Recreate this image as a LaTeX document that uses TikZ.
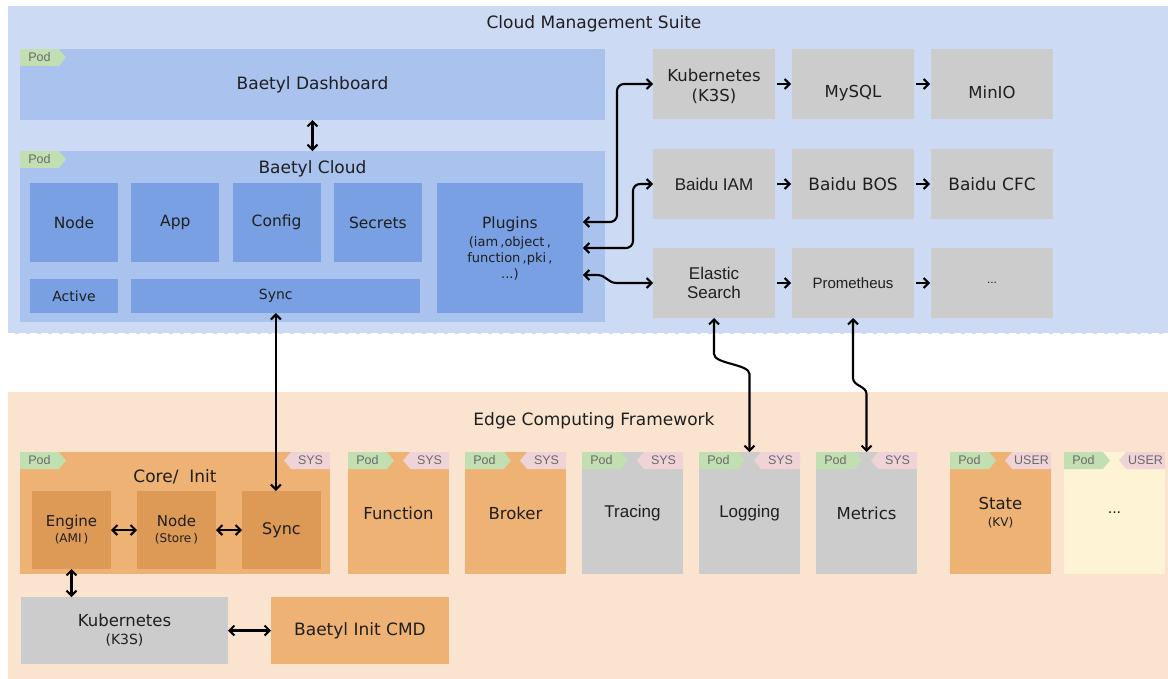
\documentclass[tikz,border=0pt]{standalone}
\usepackage{fontspec}
\setmainfont{DejaVu Sans}
\newfontfamily\arialfont{Liberation Sans}
\usepackage{xcolor}
\usepackage{tikz}
\usetikzlibrary{positioning, shapes.symbols, arrows.meta}

\definecolor{cloudbg}{HTML}{CCDAF4}
\definecolor{podblue}{HTML}{A9C2EE}
\definecolor{modblue}{HTML}{78A0E2}
\definecolor{svcgray}{HTML}{CCCCCC}
\definecolor{edgebg}{HTML}{FAE4D0}
\definecolor{podorange}{HTML}{EDB274}
\definecolor{modorange}{HTML}{DD9A56}
\definecolor{podyellow}{HTML}{FEF3D4}
\definecolor{taggreen}{HTML}{C2DFB2}
\definecolor{tagpink}{HTML}{F0D3D7}
\definecolor{tagtext}{HTML}{6A6A6A}

\newcommand{\fsz}[2]{\fontsize{#1}{#2}\selectfont}

\begin{document}
\begin{tikzpicture}[
    x=1pt, y=-1pt,
    >={Straight Barb[length=5pt,width=10pt]},
    panel/.style={rectangle, draw=white, dash pattern=on 7pt off 4pt, line width=1.2pt, anchor=north west, minimum width=1162pt},
    box/.style={rectangle, anchor=north west, inner sep=0pt, outer sep=0pt, align=center, text=black!88, font=\fsz{16}{20}},
    podbox/.style={box, fill=podblue, font=\fsz{17}{20}},
    modbox/.style={box, fill=modblue, font=\fsz{15.5}{18}},
    svcbox/.style={box, fill=svcgray, minimum width=122pt, minimum height=70pt, font=\fsz{16.5}{20}},
    edgebox/.style={box, fill=podorange, minimum width=101pt, minimum height=122pt, font=\fsz{16.5}{17}},
    corebox/.style={box, fill=modorange, minimum width=79pt, minimum height=78pt, font=\fsz{15}{16}},
    heading/.style={font=\fsz{17}{20}, text=black!88, inner sep=0pt},
    pod/.style={signal, signal to=east, signal pointer angle=100, fill=taggreen, text=tagtext, font=\arialfont\fsz{12.5}{12}, minimum width=46pt, minimum height=17pt, inner sep=0pt, outer sep=0pt, anchor=north west},
    sys/.style={pod, signal to=west, fill=tagpink, anchor=north east},
    arrow/.style={<->, line width=2.1pt},
    flow/.style={->, line width=2.1pt, shorten <=2pt, shorten >=1pt}
]
\useasboundingbox (0,0) rectangle (1168,678);

% Panels
\node[panel, fill=cloudbg, minimum height=328pt] (cloud) at (7,5) {};
\node[panel, fill=edgebg, minimum height=290pt] (edge) at (7,391) {};
\node[heading] (cloud-title) at (594,24) {Cloud Management Suite};
\node[heading] (edge-title) at (594,421) {Edge Computing Framework};

% Cloud: Baetyl pods
\node[podbox, minimum width=585pt, minimum height=71pt] (dash) at (20,49) {Baetyl Dashboard};
\node[podbox, minimum width=585pt, minimum height=171pt, below=31pt of dash] (cloudsvc) {};
\node[heading] (cloudsvc-title) at ([yshift=-18pt]cloudsvc.north) {Baetyl Cloud};
\node[modbox, minimum width=88pt, minimum height=79pt] (cnode) at (30,183) {Node};
\node[modbox, minimum width=88pt, minimum height=79pt, right=13.3pt of cnode] (app) {App};
\node[modbox, minimum width=88pt, minimum height=79pt, right=13.3pt of app] (config) {Config};
\node[modbox, minimum width=88pt, minimum height=79pt, right=13.3pt of config] (secrets) {Secrets};
\node[modbox, minimum width=88pt, minimum height=34pt, font=\fsz{14}{16}, below=17pt of cnode] (active) {Active};
\node[modbox, minimum width=289pt, minimum height=34pt, font=\fsz{14}{16}, right=13.3pt of active] (csync) {Sync};
\node[modbox, minimum width=146pt, minimum height=130pt, right=15pt of secrets.north east, anchor=north west] (plugins) {Plugins\\[0pt]{\fsz{13}{16}(iam\,,object\,,}\\[-2pt]{\fsz{13}{16}function\,,pki\,,}\\[-2pt]{\fsz{13}{16}...)}};

% Cloud: services
\node[svcbox, text height=38pt] (k8s) at (653,49) {Kubernetes\\(K3S)};
\node[svcbox, text height=30pt, right=17pt of k8s] (mysql) {MySQL};
\node[svcbox, text height=30pt, right=17pt of mysql] (minio) {MinIO};
\node[svcbox, font=\arialfont\fsz{17}{20}, below=30pt of k8s] (iam) {Baidu IAM};
\node[svcbox, font=\fsz{17}{20}, right=17pt of iam] (bos) {Baidu BOS};
\node[svcbox, font=\fsz{17}{20}, right=17pt of bos] (cfc) {Baidu CFC};
\node[svcbox, font=\arialfont\fsz{17}{19}, below=29pt of iam] (es) {Elastic\\Search};
\node[svcbox, font=\arialfont\fsz{15}{18}, right=17pt of es] (prom) {Prometheus};
\node[svcbox, font=\arialfont\fsz{12}{14}, right=17pt of prom] (etc) {...};

% Edge: core / init
\node[edgebox, minimum width=310pt] (core) at (20,452) {};
\node[heading] (core-title) at ([yshift=-25pt]core.north) {Core/\ \ Init};
\node[corebox] (engine) at (32,491) {Engine\\{\fsz{12}{14}(AMI\,)}};
\node[corebox, right=26pt of engine] (enode) {Node\\{\fsz{12}{14}(Store\,)}};
\node[corebox, font=\fsz{16}{18}, right=26pt of enode] (esync) {Sync};
\node[box, fill=svcgray, minimum width=207pt, minimum height=67pt, font=\fsz{16.5}{18}] (ek8s) at (21,597) {Kubernetes\\{\fsz{14}{16}(K3S)}};
\node[box, fill=podorange, minimum width=178pt, minimum height=67pt, font=\fsz{17}{20}, right=43pt of ek8s] (initcmd) {Baetyl Init CMD};

% Edge: modules
\node[edgebox, right=18pt of core.north east, anchor=north west] (function) {Function};
\node[edgebox, right=16pt of function] (broker) {Broker};
\node[edgebox, fill=svcgray, font=\arialfont\fsz{17}{20}, right=16pt of broker] (tracing) {Tracing};
\node[edgebox, fill=svcgray, font=\arialfont\fsz{17}{20}, right=16pt of tracing] (logging) {Logging};
\node[edgebox, fill=svcgray, right=16pt of logging] (metrics) {Metrics};
\node[edgebox, right=33pt of metrics] (state) {State\\{\fsz{12}{14}(KV)}};
\node[edgebox, fill=podyellow, font=\arialfont\fsz{16}{20}, right=13pt of state] (more) {...};

% Tags
\node[pod] (dash-pod) at (dash.north west) {Pod};
\node[pod] (cloudsvc-pod) at (cloudsvc.north west) {Pod};
\node[pod] (core-pod) at (core.north west) {Pod};
\node[sys] (core-sys) at (core.north east) {SYS};
\node[pod] (function-pod) at (function.north west) {Pod};
\node[sys] (function-sys) at (function.north east) {SYS};
\node[pod] (broker-pod) at (broker.north west) {Pod};
\node[sys] (broker-sys) at (broker.north east) {SYS};
\node[pod] (tracing-pod) at (tracing.north west) {Pod};
\node[sys] (tracing-sys) at (tracing.north east) {SYS};
\node[pod] (logging-pod) at (logging.north west) {Pod};
\node[sys] (logging-sys) at (logging.north east) {SYS};
\node[pod] (metrics-pod) at (metrics.north west) {Pod};
\node[sys] (metrics-sys) at (metrics.north east) {SYS};
\node[pod] (state-pod) at (state.north west) {Pod};
\node[sys] (state-user) at (state.north east) {USER};
\node[pod] (more-pod) at (more.north west) {Pod};
\node[sys] (more-user) at (more.north east) {USER};

% Arrows: cloud
\draw[arrow] (dash) -- (cloudsvc);
\draw[arrow, rounded corners=7pt] ([yshift=26pt]plugins.east) -| ([xshift=-36pt]k8s.west) -- (k8s.west);
\draw[arrow, rounded corners=7pt] (plugins.east) -| ([xshift=-20pt]iam.west) -- (iam.west);
\draw[arrow] ([yshift=-27pt]plugins.east) -- ++(14,0) .. controls +(10,0) and +(-10,0) .. ([xshift=-36pt]es.west) -- (es.west);
\draw[flow] (k8s) -- (mysql);
\draw[flow] (mysql) -- (minio);
\draw[flow] (iam) -- (bos);
\draw[flow] (bos) -- (cfc);
\draw[flow] (es) -- (prom);
\draw[flow] (prom) -- (etc);

% Arrows: cloud <-> edge
\draw[arrow] (csync.south) -- (csync.south |- esync.north);
\draw[arrow] (es.south) -- ++(0,36) .. controls +(0,10) and +(0,-10) .. ([yshift=78pt]logging.north) -- (logging.north);
\draw[arrow] (prom.south) -- ++(0,60) .. controls +(0,8) and +(0,-8) .. ([yshift=58pt]metrics.north) -- (metrics.north);

% Arrows: edge
\draw[arrow] (engine) -- (enode);
\draw[arrow] (enode) -- (esync);
\draw[arrow] (engine.south) -- (engine.south |- ek8s.north);
\draw[arrow] (ek8s) -- (initcmd);

\end{tikzpicture}
\end{document}
